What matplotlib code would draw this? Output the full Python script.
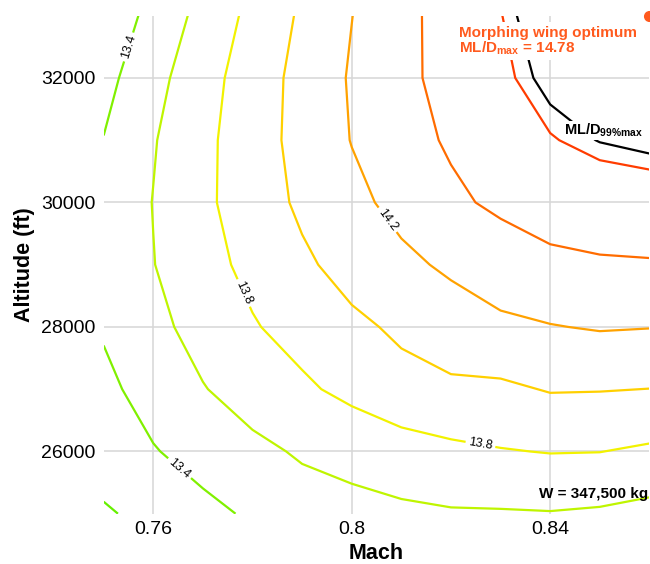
import numpy as np
import matplotlib
matplotlib.use("Agg")
import matplotlib.pyplot as plt

plt.rcParams['font.family'] = ['Liberation Sans', 'DejaVu Sans']
plt.rcParams['mathtext.fontset'] = 'custom'
plt.rcParams['mathtext.rm'] = 'Liberation Sans'
plt.rcParams['mathtext.bf'] = 'Liberation Sans:bold'
plt.rcParams['mathtext.default'] = 'bf'

# grid of the ML/D map (rows: altitude, columns: Mach)
mach = [0.75, 0.76, 0.77, 0.78, 0.79, 0.80, 0.81, 0.82, 0.83, 0.84, 0.85, 0.86]
altitude = [25000, 26000, 27000, 28000, 29000, 30000, 31000, 32000, 33000]
mld = [
    [13.175, 13.262, 13.350, 13.426, 13.520, 13.548, 13.566, 13.582, 13.584, 13.591, 13.575, 13.539],
    [13.305, 13.388, 13.473, 13.558, 13.620, 13.656, 13.710, 13.760, 13.790, 13.807, 13.803, 13.771],
    [13.353, 13.479, 13.591, 13.679, 13.766, 13.854, 13.943, 13.965, 13.965, 14.012, 14.008, 13.998],
    [13.420, 13.551, 13.667, 13.784, 13.876, 13.963, 14.030, 14.110, 14.170, 14.192, 14.214, 14.205],
    [13.460, 13.595, 13.729, 13.854, 13.968, 14.067, 14.160, 14.230, 14.284, 14.356, 14.376, 14.384],
    [13.450, 13.605, 13.760, 13.902, 14.034, 14.152, 14.255, 14.360, 14.441, 14.490, 14.524, 14.534],
    [13.405, 13.587, 13.752, 13.912, 14.063, 14.206, 14.321, 14.426, 14.508, 14.592, 14.636, 14.659],
    [13.339, 13.537, 13.724, 13.897, 14.062, 14.219, 14.351, 14.466, 14.574, 14.662, 14.690, 14.720],
    [13.258, 13.461, 13.661, 13.852, 14.029, 14.197, 14.346, 14.476, 14.596, 14.706, 14.745, 14.780],
]

# plain contours and the ones carrying inline labels
plain_levels = [13.2, 13.6, 14.0, 14.4, 14.6]
plain_colors = ['#66f000', '#bff500', '#ffd000', '#ff6c00', '#ff3c00']
labeled_levels = [13.4, 13.8, 14.2]
labeled_colors = ['#80f000', '#f2f200', '#ffa200']
label_pos = [(0.7549, 32500), (0.7654, 25740), (0.7775, 28520),
             (0.8260, 26140), (0.8067, 29690)]

ld_max = 14.78
ld_99 = 0.99 * ld_max
opt_mach, opt_alt = 0.86, 33000
weight_text = 'W = 347,500 kg'
opt_color = '#ff5a1e'

fig = plt.figure(figsize=(6.5, 5.64), dpi=100)
ax = fig.add_axes([0.1595, 0.0892, 0.8396, 0.8830])

ax.contour(mach, altitude, mld, levels=plain_levels, colors=plain_colors,
           linewidths=1.6)
cs = ax.contour(mach, altitude, mld, levels=labeled_levels,
                colors=labeled_colors, linewidths=1.6)
ax.clabel(cs, manual=label_pos, fmt='%.1f', fontsize=9, colors='black',
          inline_spacing=3)

ax.contour(mach, altitude, mld, levels=[ld_99], colors='black',
           linewidths=1.6)

ax.plot(opt_mach, opt_alt, 'o', color=opt_color, ms=8, mec='none',
        clip_on=False, zorder=6)

# second line first, first line on top so its descenders stay visible
ax.text(0.8216, 32400, 'ML/D$_{max}$ = %.2f' % ld_max, color=opt_color,
        fontsize=11, fontweight='bold', va='baseline', zorder=7,
        bbox=dict(facecolor='white', edgecolor='none', pad=1.5))
ax.text(0.8216, 32657, 'Morphing wing optimum', color=opt_color,
        fontsize=11, fontweight='bold', va='baseline', zorder=8,
        bbox=dict(facecolor='white', edgecolor='none', pad=0.3))
ax.text(0.8216, 32657, 'Morphing wing optimum', color=opt_color,
        fontsize=11, fontweight='bold', va='baseline', zorder=6,
        bbox=dict(facecolor='white', edgecolor='none', pad=3))

ax.text(0.8428, 31082, 'ML/D$_{99\\%max}$', color='black', fontsize=10.5,
        fontweight='bold', va='baseline', zorder=7,
        bbox=dict(facecolor='white', edgecolor='none', pad=0.5))

ax.text(0.8597, 25260, weight_text, color='black', fontsize=11,
        fontweight='bold', ha='right', va='baseline', zorder=7)

ax.set_xlim(0.75, 0.86)
ax.set_ylim(25000, 33000)
ax.set_xticks([0.76, 0.80, 0.84])
ax.set_xticklabels(['0.76', '0.8', '0.84'])
ax.set_yticks([26000, 28000, 30000, 32000])
ax.tick_params(length=0, labelsize=14)
ax.tick_params(axis='y', pad=6)
ax.tick_params(axis='x', pad=5)
ax.grid(True, color='#d6d6d6', linewidth=1.1)
ax.set_axisbelow(True)
for s in ax.spines.values():
    s.set_visible(False)

ax.set_xlabel('Mach', fontsize=15.5, fontweight='bold', labelpad=4)
ax.set_ylabel('Altitude (ft)', fontsize=15.5, fontweight='bold', labelpad=4)

fig.savefig('out.png', dpi=100)
